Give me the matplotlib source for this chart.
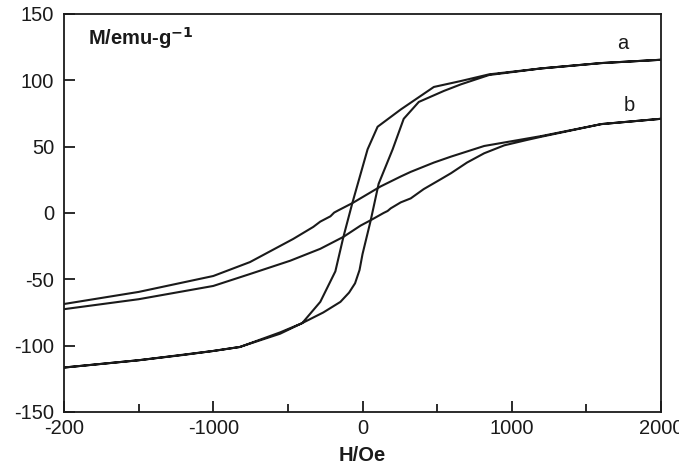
import matplotlib.pyplot as plt
from matplotlib.ticker import MultipleLocator

# curve a: two branches (left / right steep line), H ascending
a1_h = [-2000, -1500, -1200, -1000, -822, -687, -552, -404, -283, -182, -128, -67, 34, 101, 256, 478, 660, 848, 1200, 1600, 2000]
a1_m = [-116.5, -111, -107, -104, -101, -96, -91, -83, -67, -44, -18, 8, 48, 65, 78, 95, 99.5, 104.5, 109, 113, 115.5]
a2_h = [-2000, -1500, -1000, -822, -687, -552, -404, -263, -148, -90, -50, -20, 0, 54, 108, 202, 276, 377, 545, 660, 848, 1200, 1600, 2000]
a2_m = [-116.5, -111, -104, -101, -95.5, -90, -83, -75, -67, -60, -53, -43, -31, -6, 22, 48, 71, 83.7, 92, 97, 104, 109, 113, 115.5]

# curve b: upper and lower branch
b1_h = [-2000, -1500, -1000, -754, -465, -330, -283, -215, -190, -162, -67, 121, 256, 323, 478, 593, 815, 1199, 1600, 2000]
b1_m = [-68.6, -59.5, -47.5, -37, -19.6, -10.5, -6.5, -2.5, 0.3, 2.0, 7.5, 20, 27.5, 31, 38, 42.5, 50.5, 58, 67, 71]
b2_h = [-2000, -1500, -1000, -754, -485, -283, -128, -13, 54, 141, 168, 189, 256, 323, 410, 525, 593, 700, 815, 950, 1100, 1199, 1600, 2000]
b2_m = [-72.5, -65, -55, -46, -36, -27, -18, -9.5, -5.5, 0, 1.5, 3.5, 8, 11, 18, 25.5, 30, 38, 45, 51, 55, 57.5, 67, 71]

xticks = [-2000, -1000, 0, 1000, 2000]
xticklabels = ['-200', '-1000', '0', '1000', '2000']
yticks = [-150, -100, -50, 0, 50, 100, 150]

plt.rcParams['font.family'] = ['Liberation Sans', 'DejaVu Sans']
plt.rcParams['axes.unicode_minus'] = False

fig = plt.figure(figsize=(6.79, 4.71), dpi=100)
ax = fig.add_axes([0.0943, 0.1253, 0.8792, 0.845])

col = '#1a1a1a'
ax.plot(a1_h + a2_h[::-1], a1_m + a2_m[::-1], color=col, linewidth=1.5)
ax.plot(b1_h + b2_h[::-1], b1_m + b2_m[::-1], color=col, linewidth=1.5)

ax.set_xlim(-2000, 2000)
ax.set_ylim(-150, 150)
ax.set_xticks(xticks)
ax.set_xticklabels(xticklabels)
ax.set_yticks(yticks)
ax.xaxis.set_minor_locator(MultipleLocator(500))
ax.tick_params(which='major', direction='in', length=8, width=1.3, labelsize=14.5,
               colors=col, pad=5)
ax.tick_params(axis='y', which='major', pad=7)
ax.tick_params(which='minor', direction='in', length=6, width=1.3, color=col)
for s in ax.spines.values():
    s.set_linewidth(1.3)
    s.set_color(col)

ax.set_xlabel('H/Oe', fontsize=14.5, fontweight='bold', color=col, labelpad=6)
ax.text(0.04, 0.94, r'M/emu-g$^{\mathbf{-1}}$', transform=ax.transAxes, fontsize=14.5,
        fontweight='bold', color=col, va='center', ha='left')
ax.text(1744, 128, 'a', fontsize=14.5, color=col, ha='center', va='center')
ax.text(1785, 80.7, 'b', fontsize=14.5, color=col, ha='center', va='center')

fig.savefig('out.png', dpi=100)
